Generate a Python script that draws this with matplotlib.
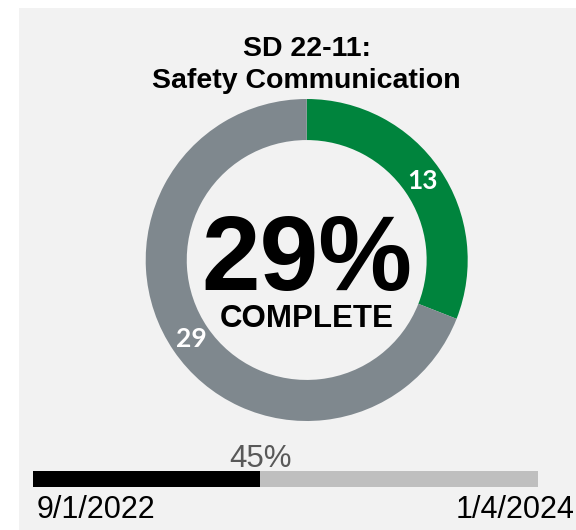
import matplotlib
matplotlib.use('Agg')
from matplotlib import pyplot as plt
from matplotlib.patches import Rectangle

# data
title_lines = ['SD 22-11:', 'Safety Communication']
segment_labels = ['Complete', 'Remaining']
segment_values = [13, 29]
percent_text = '29%'
progress_pct = 45
start_date = '9/1/2022'
end_date = '1/4/2024'

W, H = 576, 530
green = '#00843D'
slate = '#7F888E'
panel = '#F2F2F2'

fig = plt.figure(figsize=(W / 100, H / 100), dpi=100)
fig.patch.set_facecolor('white')

# light gray panel behind everything (white strip at top and left)
fig.add_artist(Rectangle((19 / W, 0), 1 - 19 / W, (H - 8) / H,
                         transform=fig.transFigure, facecolor=panel,
                         edgecolor='none', zorder=0))

# title
fig.text(306.7 / W, 1 - 56 / H, title_lines[0], ha='center', va='baseline',
         fontsize=20.5, fontweight='bold', family='Liberation Sans')
fig.text(306.7 / W, 1 - 88.5 / H, title_lines[1], ha='center', va='baseline',
         fontsize=20.5, fontweight='bold', family='Liberation Sans')

# donut
cx, cy, R = 306.7, H - 260, 161
half = 1.1 * R
ax = fig.add_axes([(cx - half) / W, (cy - half) / H, 2 * half / W, 2 * half / H])
ax.set_facecolor('none')
wedges, texts = ax.pie(segment_values, labels=[str(v) for v in segment_values],
                       colors=[green, slate], startangle=90, counterclock=False,
                       radius=1, labeldistance=0.87,
                       wedgeprops=dict(width=0.255, edgecolor='none'),
                       textprops=dict(color='white', fontsize=19, fontweight='bold',
                                      family='Lato'))
for t in texts:
    t.set_ha('center')
    t.set_va('center')
ax.set_xlim(-1.1, 1.1)
ax.set_ylim(-1.1, 1.1)
ax.set_aspect('equal')
ax.axis('off')

ax.text(0, -30 / R, percent_text, ha='center', va='baseline', fontsize=76,
        fontweight='bold', family='Liberation Sans')
ax.text(0, -67 / R, 'COMPLETE', ha='center', va='baseline', fontsize=22.5,
        fontweight='bold', family='Liberation Sans')

# timeline progress bar
bx0, bx1, by_top, by_bot = 33, 538, 471, 487
bax = fig.add_axes([bx0 / W, (H - by_bot) / H, (bx1 - bx0) / W, (by_bot - by_top) / H])
bax.set_facecolor('none')
bax.barh(0, 100, height=1, color='#BFBFBF', edgecolor='none')
bax.barh(0, progress_pct, height=1, color='black', edgecolor='none')
bax.set_xlim(0, 100)
bax.set_ylim(-0.5, 0.5)
bax.axis('off')

bax.annotate(f'{progress_pct}%', xy=(progress_pct, 0.5), xytext=(0, 4),
             textcoords='offset pixels', ha='center', va='baseline',
             fontsize=22.5, color='#595959', family='Liberation Sans',
             annotation_clip=False)
bax.annotate(start_date, xy=(0, -0.5), xytext=(4, -31), textcoords='offset pixels',
             ha='left', va='baseline', fontsize=22, color='black',
             family='Liberation Sans', annotation_clip=False)
bax.annotate(end_date, xy=(100, -0.5), xytext=(36, -31), textcoords='offset pixels',
             ha='right', va='baseline', fontsize=22, color='black',
             family='Liberation Sans', annotation_clip=False)

fig.savefig('out.png', dpi=100, facecolor=fig.get_facecolor())
